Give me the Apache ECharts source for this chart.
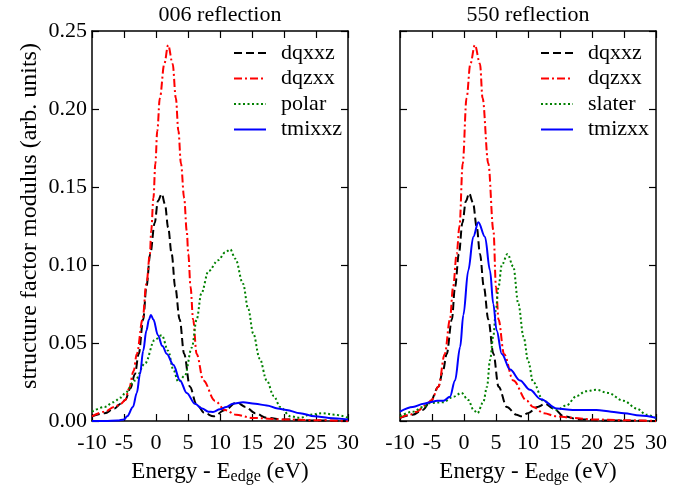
<!DOCTYPE html>
<html>
<head>
<meta charset="utf-8">
<script src="https://cdn.jsdelivr.net/npm/echarts@6/dist/echarts.min.js"></script>
<style>
  html, body { margin: 0; padding: 0; background: #fff; }
  #main { width: 697px; height: 491px; }
</style>
</head>
<body>
<div id="main"></div>
<script>
// energy ticks and y ticks
let xTicks = [-10, -5, 0, 5, 10, 15, 20, 25, 30];
let yTicks = [0, 0.05, 0.10, 0.15, 0.20, 0.25];

// 006 reflection
let dqxxz006 = [[-10, 0.003], [-8, 0.005], [-6.5, 0.008], [-5.5, 0.011], [-4.8, 0.0135], [-4.0, 0.021], [-3.3, 0.030], [-2.7, 0.043], [-2.0, 0.065], [-1.5, 0.086], [-0.9, 0.107], [-0.2, 0.127], [0.3, 0.141], [0.9, 0.1456], [1.4, 0.139], [1.9, 0.124], [2.45, 0.107], [3.0, 0.086], [3.7, 0.065], [4.4, 0.043], [5.3, 0.022], [6.3, 0.011], [7.6, 0.005], [9.0, 0.003], [10.8, 0.007], [12.6, 0.012], [14, 0.009], [15.5, 0.005], [17.3, 0.002], [20, 0.001], [25, 0.0003], [30, 0.0]];
let dqzxx006 = [[-10, 0.003], [-8, 0.006], [-6.5, 0.009], [-5.5, 0.011], [-4.8, 0.0135], [-4.2, 0.021], [-3.5, 0.032], [-3.0, 0.043], [-2.1, 0.065], [-1.5, 0.088], [-0.95, 0.107], [-0.75, 0.122], [-0.4, 0.143], [-0.1, 0.165], [0.2, 0.186], [0.6, 0.207], [1.3, 0.229], [1.9, 0.241], [2.6, 0.229], [3.1, 0.207], [3.5, 0.186], [3.9, 0.165], [4.4, 0.143], [4.8, 0.122], [5.05, 0.107], [5.4, 0.086], [5.8, 0.065], [6.35, 0.043], [7.4, 0.026], [9.2, 0.013], [10.8, 0.007], [12.5, 0.004], [15, 0.002], [20, 0.001], [25, 0.0005], [30, 0.0]];
let polar006 = [[-10, 0.006], [-8, 0.009], [-6.7, 0.012], [-5.5, 0.015], [-4.8, 0.018], [-3.3, 0.026], [-1.7, 0.037], [-0.2, 0.052], [0.9, 0.055], [1.9, 0.045], [2.7, 0.033], [3.5, 0.025], [4.5, 0.029], [5.6, 0.047], [6.35, 0.065], [7.1, 0.082], [8.2, 0.096], [9.7, 0.103], [10.8, 0.108], [11.6, 0.110], [12.4, 0.104], [13.6, 0.088], [14.4, 0.072], [15.2, 0.056], [16.2, 0.040], [17.3, 0.026], [18.4, 0.016], [19.4, 0.009], [21, 0.003], [22.5, 0.002], [24, 0.004], [26, 0.005], [28, 0.004], [30, 0.002]];
let tmixxz006 = [[-10, 0.0], [-8, 0.0], [-6, 0.0003], [-5, 0.001], [-4.5, 0.003], [-3.6, 0.009], [-3.0, 0.018], [-2.5, 0.030], [-2.0, 0.045], [-1.5, 0.058], [-1.1, 0.065], [-0.8, 0.068], [-0.4, 0.065], [0.3, 0.055], [1.0, 0.048], [1.7, 0.043], [2.7, 0.036], [3.75, 0.026], [4.8, 0.018], [6.1, 0.011], [7.2, 0.008], [8.2, 0.006], [8.9, 0.0058], [10, 0.0075], [11, 0.009], [12, 0.011], [13.6, 0.012], [15.5, 0.011], [17.3, 0.010], [19, 0.008], [20.4, 0.007], [22.5, 0.005], [24.8, 0.003], [27, 0.002], [30, 0.001]];

// 550 reflection
let dqxxz550 = [[-10, 0.002], [-8, 0.004], [-6.5, 0.007], [-5.3, 0.012], [-4.0, 0.022], [-3.3, 0.032], [-2.7, 0.043], [-1.9, 0.065], [-1.4, 0.086], [-0.8, 0.107], [-0.25, 0.127], [0.3, 0.141], [0.8, 0.146], [1.4, 0.140], [2.0, 0.124], [2.5, 0.107], [3.1, 0.086], [3.8, 0.065], [4.6, 0.043], [5.4, 0.022], [6.7, 0.009], [8.2, 0.004], [9, 0.003], [10, 0.005], [11.5, 0.009], [12.7, 0.011], [14, 0.008], [15.6, 0.003], [18, 0.001], [22, 0.0003], [30, 0.0]];
let dqzxx550 = [[-10, 0.002], [-8.5, 0.004], [-7.4, 0.006], [-6, 0.010], [-5.05, 0.0135], [-4.0, 0.022], [-3.0, 0.043], [-2.2, 0.065], [-1.7, 0.086], [-1.15, 0.107], [-0.7, 0.125], [-0.2, 0.165], [0.4, 0.207], [1.0, 0.229], [1.7, 0.241], [2.5, 0.229], [2.9, 0.207], [3.8, 0.165], [4.6, 0.122], [5.0, 0.086], [5.4, 0.065], [6.25, 0.043], [7.7, 0.026], [9.8, 0.013], [10.8, 0.009], [12.5, 0.005], [14.4, 0.003], [17, 0.002], [20, 0.001], [25, 0.0005], [30, 0.0]];
let slater550 = [[-10, 0.003], [-8, 0.006], [-6.35, 0.009], [-5.3, 0.0115], [-3.3, 0.012], [-1.7, 0.0155], [-0.4, 0.018], [0.67, 0.0134], [1.5, 0.007], [2.1, 0.005], [3.0, 0.012], [3.6, 0.022], [4.06, 0.039], [4.6, 0.055], [5.0, 0.072], [5.4, 0.086], [5.9, 0.100], [6.8, 0.107], [7.7, 0.099], [8.5, 0.075], [9.3, 0.054], [10.05, 0.038], [10.8, 0.025], [12.4, 0.013], [14.5, 0.007], [16, 0.010], [17.6, 0.016], [19, 0.019], [20.7, 0.020], [22.5, 0.018], [24.9, 0.013], [27, 0.008], [28.5, 0.004], [30, 0.002]];
let tmizxx550 = [[-10, 0.006], [-8, 0.009], [-6.3, 0.011], [-5.3, 0.012], [-4.2, 0.013], [-3.2, 0.013], [-2.2, 0.0155], [-1.4, 0.026], [-0.6, 0.0475], [-0.1, 0.068], [0.67, 0.0965], [1.45, 0.118], [2.24, 0.1274], [3.28, 0.118], [4.06, 0.0965], [4.58, 0.075], [5.1, 0.058], [5.9, 0.043], [7.2, 0.033], [8.75, 0.026], [10.3, 0.020], [12, 0.014], [14.5, 0.008], [17, 0.007], [20.7, 0.007], [23, 0.006], [25, 0.005], [27.5, 0.0035], [30, 0.002]];

let FONT = 'Liberation Serif';

let chart = echarts.init(document.getElementById('main'), null, { renderer: 'canvas' });

function xAxisCfg(grid, pos, labels) {
  return {
    type: 'value', gridIndex: grid, position: pos,
    min: xTicks[0], max: xTicks[xTicks.length - 1], interval: 5,
    axisLine: { show: true, onZero: false, lineStyle: { color: '#000', width: 1.5 } },
    axisTick: { show: true, inside: true, length: 7, lineStyle: { color: '#000', width: 1.2 } },
    axisLabel: { show: labels, color: '#000', fontFamily: FONT, fontSize: 22, margin: 11 },
    splitLine: { show: false },
    name: labels ? 'Energy - E{sub|edge} (eV)' : '',
    nameLocation: 'middle', nameGap: 38,
    nameTextStyle: {
      color: '#000', fontFamily: FONT, fontSize: 23,
      rich: { sub: { fontFamily: FONT, fontSize: 16, color: '#000', padding: [10, 0, 0, 0] } }
    }
  };
}

function yAxisCfg(grid, pos, labels) {
  return {
    type: 'value', gridIndex: grid, position: pos,
    min: yTicks[0], max: yTicks[yTicks.length - 1], interval: 0.05,
    axisLine: { show: true, onZero: false, lineStyle: { color: '#000', width: 1.5 } },
    axisTick: { show: true, inside: true, length: 7, lineStyle: { color: '#000', width: 1.2 } },
    axisLabel: { show: labels, color: '#000', fontFamily: FONT, fontSize: 22, margin: 5,
      formatter: function (v) { return v.toFixed(2); } },
    splitLine: { show: false }
  };
}

function line(name, data, xi, yi, color, dash, width) {
  return {
    name: name, type: 'line', data: data,
    xAxisIndex: xi, yAxisIndex: yi,
    showSymbol: false, symbol: 'none',
    smooth: 0.35, smoothMonotone: 'x',
    lineStyle: { color: color, width: width, type: dash },
    itemStyle: { color: color }
  };
}

let dashed = [8, 4];
let dashDot = [8, 3, 2, 3];
let dotted = [2, 2.5];

let legendBase = {
  orient: 'vertical', top: 37,
  itemWidth: 32, itemHeight: 22, itemGap: 3.5,
  itemStyle: { opacity: 0 },
  textStyle: { color: '#000', fontFamily: FONT, fontSize: 22, lineHeight: 22, padding: [0, 0, 0, 10] },
  selectedMode: false
};

let option = {
  animation: false,
  backgroundColor: '#fff',
  textStyle: { fontFamily: FONT },
  grid: [
    { left: 92, top: 31, width: 256, height: 390 },
    { left: 400, top: 31, width: 256, height: 390 }
  ],
  xAxis: [
    xAxisCfg(0, 'bottom', true), xAxisCfg(0, 'top', false),
    xAxisCfg(1, 'bottom', true), xAxisCfg(1, 'top', false)
  ],
  yAxis: [
    yAxisCfg(0, 'left', true), yAxisCfg(0, 'right', false),
    yAxisCfg(1, 'left', false), yAxisCfg(1, 'right', false)
  ],
  legend: [
    Object.assign({}, legendBase, { left: 228, data: ['dqxxz', 'dqzxx', 'polar', 'tmixxz'] }),
    Object.assign({}, legendBase, { left: 535, data: ['dqxxz', 'dqzxx', 'slater', 'tmizxx'] })
  ],
  graphic: [
    { type: 'text', x: 220, y: 15, style: { text: '006 reflection', font: '22px ' + FONT, fill: '#000', align: 'center', verticalAlign: 'middle' } },
    { type: 'text', x: 528, y: 15, style: { text: '550 reflection', font: '22px ' + FONT, fill: '#000', align: 'center', verticalAlign: 'middle' } },
    { type: 'text', x: 30, y: 216, rotation: Math.PI / 2,
      style: { text: 'structure factor modulus (arb. units)', font: '24px ' + FONT, fill: '#000', align: 'center', verticalAlign: 'middle' } }
  ],
  series: [
    line('dqxxz', dqxxz006, 0, 0, '#000000', dashed, 2),
    line('dqzxx', dqzxx006, 0, 0, '#ff0000', dashDot, 2),
    line('polar', polar006, 0, 0, '#008000', dotted, 2),
    line('tmixxz', tmixxz006, 0, 0, '#0000ff', 'solid', 2),
    line('dqxxz', dqxxz550, 2, 2, '#000000', dashed, 2),
    line('dqzxx', dqzxx550, 2, 2, '#ff0000', dashDot, 2),
    line('slater', slater550, 2, 2, '#008000', dotted, 2),
    line('tmizxx', tmizxx550, 2, 2, '#0000ff', 'solid', 2)
  ]
};

chart.setOption(option);
</script>
</body>
</html>
